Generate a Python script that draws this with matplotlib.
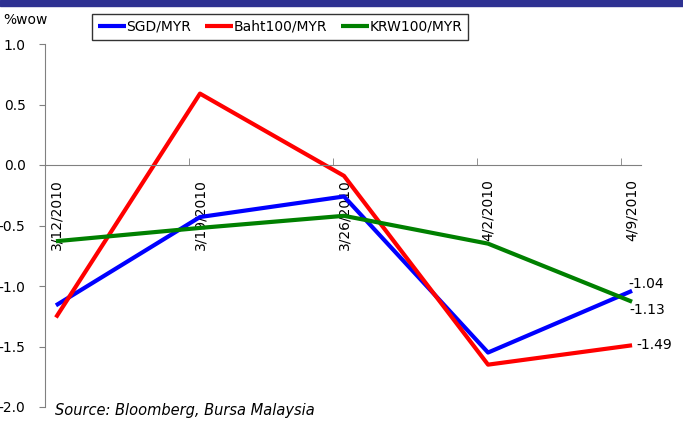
import matplotlib.pyplot as plt
import matplotlib.patches as mpatches

# data
dates = ["3/12/2010", "3/19/2010", "3/26/2010", "4/2/2010", "4/9/2010"]
sgd = [-1.16, -0.43, -0.26, -1.55, -1.04]
baht = [-1.26, 0.59, -0.09, -1.65, -1.49]
krw = [-0.63, -0.52, -0.42, -0.65, -1.13]

plt.rcParams["font.family"] = ["DejaVu Sans"]

fig = plt.figure(figsize=(6.83, 4.21), dpi=100)
ax = fig.add_axes([45 / 683, 14 / 421, 596 / 683, 363 / 421])
ax.set_axisbelow(True)

x = list(range(len(dates)))
ax.plot(x, sgd, color="#0000FF", lw=3, label="SGD/MYR", solid_capstyle="butt")
ax.plot(x, baht, color="#FF0000", lw=3, label="Baht100/MYR", solid_capstyle="butt")
ax.plot(x, krw, color="#008000", lw=3, label="KRW100/MYR", solid_capstyle="butt")

# end labels
ax.annotate(f"{sgd[-1]:.2f}", (x[-1], sgd[-1]), xytext=(-3, 5), textcoords="offset points",
            ha="left", va="center", fontsize=10)
ax.annotate(f"{krw[-1]:.2f}", (x[-1], krw[-1]), xytext=(-2, -6), textcoords="offset points",
            ha="left", va="center", fontsize=10)
ax.annotate(f"{baht[-1]:.2f}", (x[-1], baht[-1]), xytext=(3, 0), textcoords="offset points",
            ha="left", va="center", fontsize=10)

# axes
ax.set_xlim(-0.076, 4.062)
ax.set_ylim(-2.0, 1.0)
ax.set_yticks([1.0, 0.5, 0.0, -0.5, -1.0, -1.5, -2.0])
ax.set_yticklabels(["1.0", "0.5", "0.0", "-0.5", "-1.0", "-1.5", "-2.0"])
ax.tick_params(axis="y", direction="out", length=4, color="#808080", labelsize=10, pad=10)

for s in ["top", "right"]:
    ax.spines[s].set_visible(False)
ax.spines["left"].set_color("#808080")
ax.spines["bottom"].set_position(("data", 0))
ax.spines["bottom"].set_color("#808080")

ax.set_xticks(x)
ax.set_xticklabels(dates, rotation=90, fontsize=10)
ax.tick_params(axis="x", which="major", length=0, pad=10)
ax.set_xticks([k - 0.076 for k in x[1:]], minor=True)
ax.tick_params(axis="x", which="minor", direction="in", length=5, color="#808080")

leg = ax.legend(loc="center", bbox_to_anchor=(280 / 683, 1 - 27 / 421), bbox_transform=fig.transFigure,
                ncol=3, frameon=True, fancybox=False, edgecolor="black", fontsize=10,
                handlelength=2.0, handletextpad=0.05, columnspacing=1.0, borderpad=0.45)
leg.get_frame().set_linewidth(1.0)

fig.text(3 / 683, 1 - 20 / 421, "%wow", fontsize=10, va="center", ha="left")
fig.text(55 / 683, 1 - 410 / 421, "Source: Bloomberg, Bursa Malaysia", fontsize=10.5,
         style="italic", va="center", ha="left")

# top band
fig.patches.append(mpatches.Rectangle((0, 1 - 6 / 421), 1, 6 / 421, transform=fig.transFigure,
                                      color="#2E3192", zorder=0))

fig.savefig("out.png", dpi=100)
